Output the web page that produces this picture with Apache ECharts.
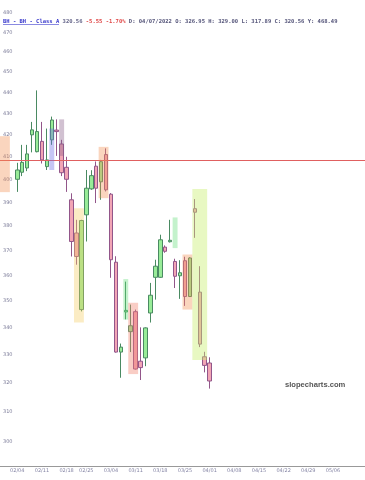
<!DOCTYPE html>
<html>
<head>
<meta charset="utf-8">
<script src="https://cdn.jsdelivr.net/npm/echarts@6/dist/echarts.min.js"></script>
<style>
html,body{margin:0;padding:0;background:#fff;}
#chart{width:365px;height:480px;}
</style>
</head>
<body>
<div id="chart"></div>
<script>
// x categories (trading days, MM/DD)
var categories = [
  '02/01','02/02','02/03','02/04',
  '02/07','02/08','02/09','02/10','02/11',
  '02/14','02/15','02/16','02/17','02/18',
  '02/22','02/23','02/24','02/25',
  '02/28','03/01','03/02','03/03','03/04',
  '03/07','03/08','03/09','03/10','03/11',
  '03/14','03/15','03/16','03/17','03/18',
  '03/21','03/22','03/23','03/24','03/25',
  '03/28','03/29','03/30','03/31','04/01',
  '04/04','04/05','04/06','04/07','04/08',
  '04/11','04/12','04/13','04/14','04/15',
  '04/18','04/19','04/20','04/21','04/22',
  '04/25','04/26','04/27','04/28','04/29',
  '05/02','05/03','05/04','05/05','05/06',
  '05/09','05/10','05/11','05/12','05/13',
  '05/16'
];
var xTickLabels = ['02/04','02/11','02/18','02/25','03/04','03/11','03/18','03/25','04/01','04/08','04/15','04/22','04/29','05/06'];
var yTickLabels = [300,310,320,330,340,350,360,370,380,390,400,410,420,430,440,450,460,470,480];

// candle dates and OHLC
var candleDates = [
  '02/04','02/07','02/08','02/09','02/10','02/11','02/14','02/15','02/16','02/17',
  '02/18','02/22','02/23','02/24','02/25','02/28','03/01','03/02','03/03','03/04',
  '03/07','03/08','03/09','03/10','03/11','03/14','03/15','03/16','03/17','03/18',
  '03/21','03/22','03/23','03/24','03/25','03/28','03/29','03/30','03/31','04/01'
];
var opens  = [400.0,403.1,405.0,420.0,412.3,417.0,405.6,417.7,422.2,415.8,
              405.3,391.1,377.1,346.7,384.7,395.8,405.8,398.9,411.0,393.5,
              365.2,330.9,345.8,338.4,345.9,327.6,328.8,345.4,359.2,359.2,
              371.3,373.5,365.5,359.8,365.8,351.7,387.3,353.4,329.2,326.95];
var closes = [404.1,407.5,411.3,422.3,421.5,408.6,408.6,426.9,421.5,402.9,
              400.0,373.6,367.5,382.3,396.1,401.6,396.1,407.8,395.4,366.2,
              330.9,332.7,346.4,340.6,324.8,325.3,339.8,352.2,363.6,374.3,
              369.6,374.1,359.6,361.0,351.7,366.9,385.8,333.8,326.1,320.56];
var lows   = [394.5,401.4,403.6,412.0,412.0,407.0,404.1,415.4,410.4,401.4,
              394.5,367.5,364.2,346.0,373.6,395.4,389.7,391.1,394.7,359.0,
              330.7,321.7,343.0,330.9,324.6,320.9,325.8,341.8,350.5,359.0,
              369.0,373.2,355.0,350.8,348.1,351.5,375.1,332.7,323.6,317.89];
var highs  = [407.3,415.4,415.4,426.0,441.0,426.0,422.9,428.5,427.2,417.7,
              410.0,393.9,382.6,382.6,404.1,404.0,407.9,408.6,413.8,394.0,
              367.6,334.0,357.5,348.6,346.7,340.0,340.0,357.0,366.2,376.4,
              372.0,382.6,366.6,366.0,367.4,367.2,391.4,363.6,331.0,329.00];

// highlight boxes: start date, end date, low, high
var boxStart = ['02/01','02/15','02/17','02/23','03/02','03/09','03/10','03/23','03/25','03/29'];
var boxEnd   = ['02/02','02/15','02/17','02/24','03/03','03/09','03/11','03/23','03/28','03/31'];
var boxLow   = [394.4,404.1,410.4,341.8,391.8,342.9,323.0,370.9,346.7,328.0];
var boxHigh  = [419.4,422.9,427.2,387.5,414.5,358.5,349.3,383.6,368.3,395.8];
var boxColors = ['rgba(242,145,85,0.38)','rgba(110,110,230,0.40)','rgba(140,100,140,0.40)',
                 'rgba(245,205,100,0.38)','rgba(242,145,85,0.38)','rgba(100,220,120,0.38)',
                 'rgba(240,130,110,0.40)','rgba(100,220,120,0.38)','rgba(242,145,85,0.38)',
                 'rgba(200,238,110,0.42)'];

var refLine = 408.5;

// build series data
var candleMap = {};
candleDates.forEach(function(d, i){ candleMap[d] = [opens[i], closes[i], lows[i], highs[i]]; });
var candleData = categories.map(function(c){ return candleMap[c] || '-'; });
var boxData = boxStart.map(function(s, i){
  return [categories.indexOf(s), categories.indexOf(boxEnd[i]), boxLow[i], boxHigh[i]];
});

var chart = echarts.init(document.getElementById('chart'), null, {renderer:'canvas'});
var mono = 'DejaVu Sans Mono';
chart.setOption({
  animation: false,
  backgroundColor: '#fff',
  title: {
    left: 3, top: 19, padding: 0,
    text: '{lk|BH - BH - Class A} {px|320.56} {dn|-5.55 -1.70%} {tx|D: 04/07/2022 O: 326.95 H: 329.00 L: 317.89 C: 320.56 Y: 468.49}',
    textStyle: {
      fontSize: 5.5, fontFamily: mono,
      rich: {
        lk: {color:'#3a3acc', fontSize:5.5, fontFamily:mono},
        px: {color:'#66668a', fontSize:5.5, fontFamily:mono},
        dn: {color:'#e04848', fontSize:5.5, fontFamily:mono},
        tx: {color:'#55557a', fontSize:5.5, fontFamily:mono}
      }
    }
  },
  graphic: [
    {type:'line', shape:{x1:3, y1:24.5, x2:59, y2:24.5}, style:{stroke:'#3a3acc', lineWidth:0.6}, z:100},
    {type:'text', left: 285, top: 381, style:{text:'slopecharts.com', fill:'#555', font:'bold 7.6px "Liberation Sans", Arial, sans-serif'}, z:100}
  ],
  grid: {left: 0, right: 0, top: 0, bottom: 14, containLabel: false},
  xAxis: {
    type: 'category',
    data: categories,
    boundaryGap: true,
    axisLine: {show: true, lineStyle: {color: '#999', width: 1}},
    axisTick: {show: false},
    axisLabel: {
      fontSize: 5, color: '#8585a5', margin: 2, fontFamily: 'DejaVu Sans',
      interval: function(idx, val){ return xTickLabels.indexOf(val) >= 0; }
    },
    splitLine: {show: false}
  },
  yAxis: {
    type: 'log',
    logBase: 10,
    min: 292, max: 487,
    axisLine: {show: false},
    axisTick: {show: false},
    splitLine: {show: false},
    axisLabel: {
      inside: true, margin: 3, fontSize: 5, color: '#7d7d9a', fontFamily: 'DejaVu Sans',
      customValues: yTickLabels,
      formatter: function(v){ return String(Math.round(v)); }
    }
  },
  series: [
    {
      type: 'candlestick',
      data: candleData,
      barWidth: 4,
      z: 2,
      itemStyle: {
        color: '#98ec98', borderColor: '#4a8a62',
        color0: '#f2a5b5', borderColor0: '#92568a',
        borderWidth: 1
      },
      markLine: {
        silent: true, symbol: ['none','none'],
        label: {show: false},
        lineStyle: {color: '#e06060', width: 1, type: 'solid'},
        data: [{yAxis: refLine}]
      }
    },
    {
      type: 'custom',
      z: 5,
      silent: true,
      data: boxData,
      encode: {x: [0, 1], y: [2, 3]},
      renderItem: function(params, api){
        var s = api.value(0), e = api.value(1);
        var pTop = api.coord([s, api.value(3)]);
        var pBot = api.coord([e, api.value(2)]);
        var pNext = api.coord([s + 1, api.value(3)]);
        var bw = pNext[0] - pTop[0];
        return {
          type: 'rect',
          shape: {x: pTop[0] - bw / 2, y: pTop[1], width: pBot[0] - pTop[0] + bw, height: pBot[1] - pTop[1]},
          style: {fill: boxColors[params.dataIndex]}
        };
      }
    }
  ]
});
</script>
</body>
</html>
